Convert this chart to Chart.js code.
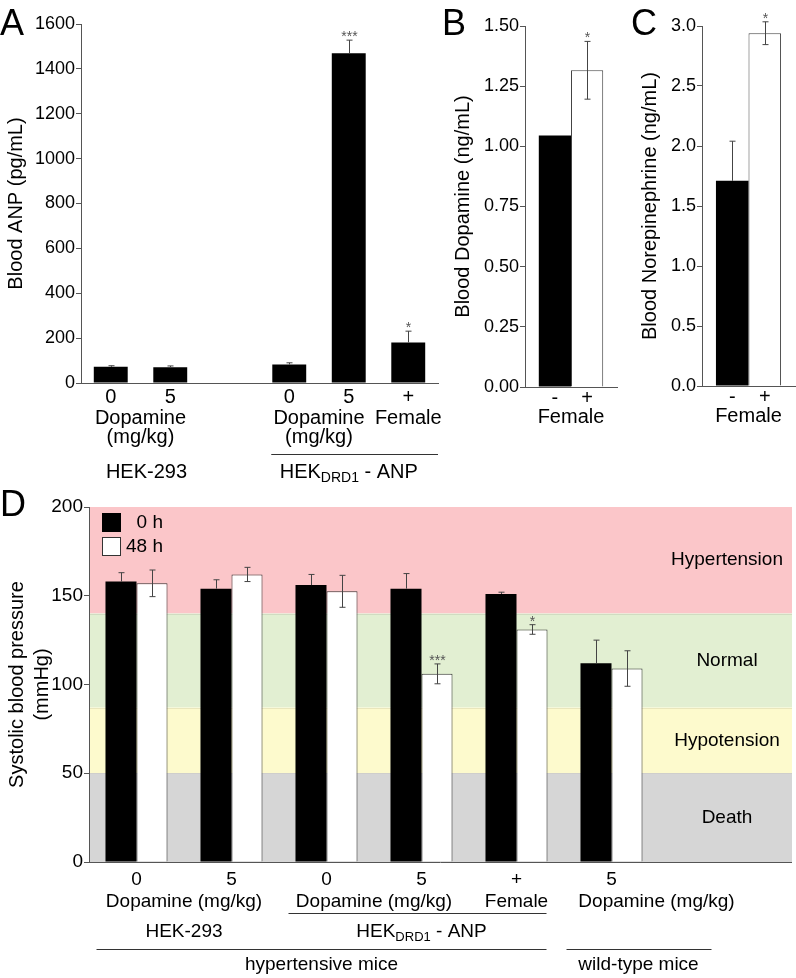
<!DOCTYPE html>
<html>
<head>
<meta charset="utf-8">
<script src="https://cdn.jsdelivr.net/npm/chart.js@4.4.0/dist/chart.umd.min.js"></script>
<style>
    body { margin: 0; background: #fff; width: 796px; height: 978px; position: relative; overflow: hidden;
           font-family: "Liberation Sans", Arial, sans-serif; }
    canvas { position: absolute; }
    .panel { position: absolute; font-size: 36px; line-height: 36px; color: #000; }
</style>
</head>
<body>
<canvas id="chartA" width="445" height="490" style="left:0;top:0"></canvas>
<canvas id="chartB" width="180" height="440" style="left:440px;top:0"></canvas>
<canvas id="chartC" width="176" height="440" style="left:620px;top:0"></canvas>
<canvas id="chartD" width="796" height="488" style="left:0;top:490px"></canvas>
<div class="panel" style="left:0;top:5px">A</div>
<div class="panel" style="left:442px;top:5px">B</div>
<div class="panel" style="left:631px;top:5px">C</div>
<div class="panel" style="left:0;top:486px">D</div>
<script>
// Panel A - blood ANP
const anpGroups = ['0', '5', '', '0', '5', '+'];
const anpMean = [72, 70, null, 82, 1470, 181];
const anpErr = [5, 6, null, 8, 58, 50];
const anpSig = ['', '', '', '', '***', '*'];
const anpTicks = [0, 200, 400, 600, 800, 1000, 1200, 1400, 1600];

// Panels B and C - female -/+
const femaleGroups = ['-', '+'];
const dopMean = [1.045, 1.316];
const dopErr = [0, 0.12];
const dopSig = ['', '*'];
const dopTicks = [0, 0.25, 0.5, 0.75, 1, 1.25, 1.5];

const neMean = [1.71, 2.94];
const neErr = [0.33, 0.095];
const neSig = ['', '*'];
const neTicks = [0, 0.5, 1, 1.5, 2, 2.5, 3];

// Panel D - systolic blood pressure
const bpGroups = ['0', '5', '0', '5', '+', '5', ''];
const bp0h = [158, 154, 156, 154, 151, 112, null];
const bp0hErr = [5, 5, 6, 8.5, 1, 13, null];
const bp48h = [157, 162, 152.5, 106, 131, 109, null];
const bp48hErr = [7.5, 4, 9, 5.6, 2.7, 10, null];
const bp48hSig = ['', '', '', '***', '*', '', ''];
const bpTicks = [0, 50, 100, 150, 200];
const bpZones = ['Hypertension', 'Normal', 'Hypotension', 'Death'];
const bpZoneLimits = [200, 140, 87, 50, 0];

const FONT = '"Liberation Sans", Arial, sans-serif';
Chart.defaults.font.family = FONT;
Chart.defaults.color = '#000';

function label(ctx, text, x, y, size, align) {
    ctx.save();
    ctx.font = size + 'px ' + FONT;
    ctx.fillStyle = '#000';
    ctx.textAlign = align || 'center';
    ctx.textBaseline = 'middle';
    ctx.fillText(text, x, y);
    ctx.restore();
}

function hline(ctx, x1, x2, y, color) {
    ctx.save();
    ctx.strokeStyle = color || '#333';
    ctx.lineWidth = 1;
    ctx.beginPath();
    ctx.moveTo(x1, Math.round(y) + 0.5);
    ctx.lineTo(x2, Math.round(y) + 0.5);
    ctx.stroke();
    ctx.restore();
}

// HEK with DRD1 subscript, then "- ANP"
function hekLabel(ctx, cx, cy, size) {
    const sub = Math.round(size * 0.68);
    ctx.save();
    ctx.font = size + 'px ' + FONT;
    const w1 = ctx.measureText('HEK').width;
    const w3 = ctx.measureText(' - ANP').width;
    ctx.font = sub + 'px ' + FONT;
    const w2 = ctx.measureText('DRD1').width;
    let x = cx - (w1 + w2 + w3) / 2;
    ctx.textAlign = 'left';
    ctx.textBaseline = 'middle';
    ctx.fillStyle = '#000';
    ctx.font = size + 'px ' + FONT;
    ctx.fillText('HEK', x, cy);
    x += w1;
    ctx.font = sub + 'px ' + FONT;
    ctx.fillText('DRD1', x, cy + size * 0.3);
    x += w2;
    ctx.font = size + 'px ' + FONT;
    ctx.fillText(' - ANP', x, cy);
    ctx.restore();
}

// Error bars and significance stars from dataset.errors / dataset.stars
// (black bars only show the upper half, like the original)
const errorBars = {
    id: 'errorBars',
    afterDatasetsDraw(chart) {
        const ctx = chart.ctx;
        const y = chart.scales.y;
        chart.data.datasets.forEach((ds, i) => {
            if (!ds.errors) return;
            chart.getDatasetMeta(i).data.forEach((bar, j) => {
                const v = ds.data[j];
                const e = ds.errors[j] || 0;
                if (v == null) return;
                const top = y.getPixelForValue(v + e);
                const x = Math.round(bar.x) + 0.5;
                if (e) {
                    const bot = ds.errorBoth ? y.getPixelForValue(v - e) : y.getPixelForValue(v);
                    ctx.save();
                    ctx.strokeStyle = '#444';
                    ctx.lineWidth = 1;
                    ctx.beginPath();
                    ctx.moveTo(x, top);
                    ctx.lineTo(x, bot);
                    ctx.moveTo(x - 3, top);
                    ctx.lineTo(x + 3, top);
                    if (ds.errorBoth) {
                        ctx.moveTo(x - 3, bot);
                        ctx.lineTo(x + 3, bot);
                    }
                    ctx.stroke();
                    ctx.restore();
                }
                const s = ds.stars && ds.stars[j];
                if (s) {
                    ctx.save();
                    ctx.font = '14px ' + FONT;
                    ctx.fillStyle = '#555';
                    ctx.textAlign = 'center';
                    ctx.textBaseline = 'alphabetic';
                    ctx.fillText(s, x, top + 1);
                    ctx.restore();
                }
            });
        });
    }
};

function yAxis(ticks, width, title, titlePad, fmt, size, titleSize, lineHeight) {
    return {
        min: ticks[0],
        max: ticks[ticks.length - 1],
        afterFit: s => { s.width = width; },
        afterBuildTicks: s => { s.ticks = ticks.map(v => ({ value: v })); },
        grid: { display: true, drawOnChartArea: false, drawTicks: true, tickLength: 5, color: '#555' },
        border: { display: true, color: '#555' },
        ticks: { padding: 1, font: { size: size }, color: '#000', callback: v => fmt(v) },
        title: { display: true, text: title, color: '#000',
                 font: { size: titleSize, lineHeight: lineHeight || 1.2 },
                 padding: { top: titlePad, bottom: 0 } }
    };
}

function xAxis(height, border) {
    return {
        afterFit: s => { s.height = height; },
        grid: { display: false, drawTicks: false },
        border: { display: border !== false, color: '#555' },
        ticks: { display: false }
    };
}

function baseOptions(padding, x, y) {
    return {
        responsive: false,
        animation: false,
        devicePixelRatio: 1,
        layout: { padding: padding },
        plugins: { legend: { display: false }, tooltip: { enabled: false } },
        scales: { x: x, y: y }
    };
}

// Panel A
new Chart(document.getElementById('chartA'), {
    type: 'bar',
    data: {
        labels: anpGroups,
        datasets: [{
            data: anpMean, errors: anpErr, stars: anpSig,
            backgroundColor: '#000', barPercentage: 0.57, categoryPercentage: 1
        }]
    },
    options: baseOptions({ top: 24, right: 7, left: 0, bottom: 0 }, xAxis(107),
        yAxis(anpTicks, 81, 'Blood ANP (pg/mL)', 4, v => v, 18, 20)),
    plugins: [errorBars, {
        id: 'aLabels',
        afterDraw(chart) {
            const ctx = chart.ctx, a = chart.chartArea, b = a.bottom;
            const px = i => chart.scales.x.getPixelForValue(i);
            anpGroups.forEach((g, i) => label(ctx, g, px(i), b + 14, 20));
            [[0, 1], [3, 4]].forEach(([p, q]) => {
                label(ctx, 'Dopamine', (px(p) + px(q)) / 2, b + 35, 20);
                label(ctx, '(mg/kg)', (px(p) + px(q)) / 2, b + 54, 20);
            });
            label(ctx, 'Female', px(5), b + 35, 20);
            hline(ctx, px(3) - 18, a.right, b + 71);
            label(ctx, 'HEK-293', (px(0) + px(1)) / 2 + 6, b + 89, 20);
            hekLabel(ctx, px(4), b + 89, 20);
        }
    }]
});

// Panels B and C share the same layout
function femaleChart(id, means, errs, sigs, ticks, fmt, title, titlePad, padRight, xHeight, yWidth) {
    new Chart(document.getElementById(id), {
        type: 'bar',
        data: {
            labels: ['Female'],
            datasets: femaleGroups.map((g, i) => ({
                label: g,
                data: [means[i]], errors: [errs[i]], stars: [sigs[i]],
                errorBoth: i === 1,
                backgroundColor: i === 0 ? '#000' : '#fff',
                borderColor: '#444', borderWidth: i === 0 ? 0 : 1,
                barPercentage: 1, categoryPercentage: 0.7
            }))
        },
        options: baseOptions({ top: 26, right: padRight, left: 0, bottom: 0 }, xAxis(xHeight),
            yAxis(ticks, yWidth, title, titlePad, fmt, 18, 20)),
        plugins: [errorBars, {
            id: id + 'Labels',
            afterDraw(chart) {
                const ctx = chart.ctx, b = chart.chartArea.bottom;
                femaleGroups.forEach((g, i) => {
                    label(ctx, g, chart.getDatasetMeta(i).data[0].x, b + 11, 20);
                });
                label(ctx, 'Female', chart.scales.x.getPixelForValue(0), b + 30, 20);
            }
        }]
    });
}

femaleChart('chartB', dopMean, dopErr, dopSig, dopTicks, v => v.toFixed(2),
    'Blood Dopamine (ng/mL)', 11, 3, 53, 85);
femaleChart('chartC', neMean, neErr, neSig, neTicks, v => v.toFixed(1),
    'Blood Norepinephrine (ng/mL)', 18, 1, 54, 82);

// Panel D - zone bands run to the right edge of the figure
const zoneColors = ['#fbc6c9', '#e2efd2', '#fdfacd', '#d6d6d6'];
const zoneRight = chart => chart.width - 4;

new Chart(document.getElementById('chartD'), {
    type: 'bar',
    data: {
        labels: bpGroups,
        datasets: [
            { label: '0 h', data: bp0h, errors: bp0hErr, backgroundColor: '#000',
              barPercentage: 1, categoryPercentage: 0.653 },
            { label: '48 h', data: bp48h, errors: bp48hErr, stars: bp48hSig, errorBoth: true,
              backgroundColor: '#fff', borderColor: '#333', borderWidth: 1,
              barPercentage: 1, categoryPercentage: 0.653 }
        ]
    },
    options: baseOptions({ top: 17, right: 42, left: 0, bottom: 0 }, xAxis(116, false),
        yAxis(bpTicks, 89, ['Systolic blood pressure', '(mmHg)'], 5, v => v, 19, 20, 1.25)),
    plugins: [{
        id: 'zones',
        beforeDraw(chart) {
            const ctx = chart.ctx, a = chart.chartArea, y = chart.scales.y;
            const right = zoneRight(chart);
            bpZones.forEach((z, i) => {
                const top = y.getPixelForValue(bpZoneLimits[i]);
                const bot = y.getPixelForValue(bpZoneLimits[i + 1]);
                ctx.fillStyle = zoneColors[i];
                ctx.fillRect(a.left, top, right - a.left, bot - top);
                if (i > 0) {
                    ctx.fillStyle = 'rgba(0,0,0,0.08)';
                    ctx.fillRect(a.left, Math.round(top), right - a.left, 1);
                }
                label(ctx, z, right - 65, (top + bot) / 2, 19);
            });
        },
        afterDatasetsDraw(chart) {
            hline(chart.ctx, chart.chartArea.left, zoneRight(chart), chart.chartArea.bottom, '#555');
        }
    }, errorBars, {
        id: 'dLegend',
        afterDatasetsDraw(chart) {
            const ctx = chart.ctx, a = chart.chartArea;
            chart.data.datasets.forEach((ds, i) => {
                const x0 = a.left + 13, y0 = a.top + 6 + i * 24;
                ctx.save();
                ctx.fillStyle = ds.backgroundColor;
                ctx.fillRect(x0, y0, 19, 19);
                if (ds.borderWidth) {
                    ctx.strokeStyle = ds.borderColor;
                    ctx.lineWidth = 1;
                    ctx.strokeRect(x0 + 0.5, y0 + 0.5, 18, 18);
                }
                ctx.restore();
                label(ctx, ds.label, a.left + 74, y0 + 10, 19, 'right');
            });
        }
    }, {
        id: 'dLabels',
        afterDraw(chart) {
            const ctx = chart.ctx, b = chart.chartArea.bottom;
            const px = i => chart.scales.x.getPixelForValue(i);
            bpGroups.forEach((g, i) => label(ctx, g, px(i), b + 18, 19));
            label(ctx, 'Dopamine (mg/kg)', (px(0) + px(1)) / 2, b + 40, 19);
            label(ctx, 'Dopamine (mg/kg)', (px(2) + px(3)) / 2, b + 40, 19);
            label(ctx, 'Female', px(4), b + 40, 19);
            label(ctx, 'Dopamine (mg/kg)', px(5) + 45, b + 40, 19);
            hline(ctx, px(2) - 38, px(4) + 30, b + 51);
            label(ctx, 'HEK-293', (px(0) + px(1)) / 2, b + 69.5, 19);
            hekLabel(ctx, (px(2) + px(4)) / 2, b + 69.5, 19);
            hline(ctx, px(0) - 40, px(4) + 30, b + 86.5);
            hline(ctx, px(5) - 45, px(5) + 100, b + 86.5);
            label(ctx, 'hypertensive mice', (px(0) + px(4)) / 2 - 5, b + 103, 19);
            label(ctx, 'wild-type mice', px(5) + 27, b + 103, 19);
        }
    }]
});
</script>
</body>
</html>
